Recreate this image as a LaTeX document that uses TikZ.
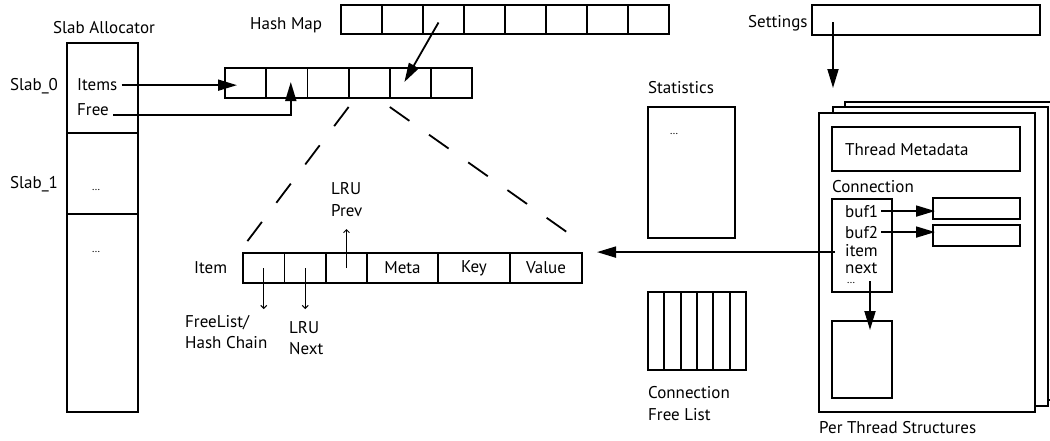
\documentclass[tikz,border=0pt]{standalone}
\usepackage{fontspec}
\setmainfont{PT Sans}
\usetikzlibrary{arrows.meta}
\begin{document}
\begin{tikzpicture}[x=1pt,y=-1pt,
  cell/.style={draw, line width=1.8pt, inner sep=0pt, outer sep=0pt, anchor=north west, fill=white},
  lbl/.style={font=\fontsize{17}{19}\selectfont, inner sep=0pt, anchor=base west},
  dots/.style={font=\fontsize{11}{12}\selectfont, inner sep=0pt},
  big/.style={-{Triangle[length=19pt,width=11pt]}, line width=1.8pt},
  small/.style={-{Straight Barb[length=3pt,width=6pt]}, line width=1pt},
  dashy/.style={line width=1.8pt, dash pattern=on 24pt off 24pt}]
\useasboundingbox (0,0) rectangle (1050,440);

% ---- Slab allocator
\node[lbl] (slabtitle) at (53,33.5) {Slab Allocator};
\node[cell, minimum width=71pt, minimum height=90pt] (slab0) at (67,43) {};
\node[cell, minimum width=71pt, minimum height=81pt] (slab1) at (67,133) {};
\node[cell, minimum width=71pt, minimum height=198pt] (slab2) at (67,214) {};
\node[lbl] (slab0lbl) at (10,90) {Slab\_0};
\node[lbl] (slab1lbl) at (10,188) {Slab\_1};
\node[lbl] (itemslbl) at (77,90) {Items};
\node[lbl] (freelbl) at (77,115) {Free};
\node[dots] (slab1dots) at (96,190) {\ldots};
\node[dots] (slab2dots) at (96,252) {\ldots};

% ---- Hash map
\node[lbl] (hmlbl) at (250,29) {Hash Map};
\foreach \i in {0,...,7}
  \node[cell, minimum width=41pt, minimum height=29pt] (hm\i) at ({341+41*\i},5) {};

% ---- items array
\foreach \i in {0,...,5}
  \node[cell, minimum width=41.2pt, minimum height=30pt] (it\i) at ({225+41.2*\i},68) {};

\coordinate (itemsout) at ([xshift=4pt,yshift=-1pt]itemslbl.east);
\draw[big] (itemsout) -- ([xshift=12pt]itemsout -| it0.west);
\coordinate (freeout) at ([xshift=4pt,yshift=-6pt]freelbl.east);
\draw[big] (freeout) -| ([xshift=4pt,yshift=1pt]it1.center);
\draw[big] ([xshift=-5pt,yshift=-3pt]hm2.center) -- ([xshift=-6pt,yshift=1pt]it4.center);

% ---- item struct
\node[lbl] (itemlbl) at (194,273) {Item};
\node[cell, minimum width=41.5pt, minimum height=30pt] (s1) at (243,253) {};
\node[cell, minimum width=41.5pt, minimum height=30pt] (s2) at (284.5,253) {};
\node[cell, minimum width=41pt, minimum height=30pt] (s3) at (326,253) {};
\node[cell, minimum width=71pt, minimum height=30pt, font=\fontsize{17}{19}\selectfont] (meta) at (367,253) {Meta};
\node[cell, minimum width=72pt, minimum height=30pt, font=\fontsize{17}{19}\selectfont] (key) at (438,253) {Key};
\node[cell, minimum width=72pt, minimum height=30pt, font=\fontsize{17}{19}\selectfont] (value) at (510,253) {Value};

\draw[dashy] ([yshift=-9pt]it3.south west) -- ([yshift=6pt]s1.north west);
\draw[dashy] ([yshift=-9pt]it4.south west) -- ([xshift=-11pt,yshift=18pt]value.north east);

\draw[small] (s1.center) -- ([yshift=-26pt]s1.south);
\draw[small] (s2.center) -- ([yshift=-26pt]s2.south);
\draw[small] (s3.center) -- ([yshift=24pt]s3.north);

\node[lbl] (lruprev1) at (331,194) {LRU};
\node[lbl] (lruprev2) at (331,216) {Prev};
\node[lbl] (fl1) at (185,327) {FreeList/};
\node[lbl] (fl2) at (185,348) {Hash Chain};
\node[lbl] (lrunext1) at (289,333) {LRU};
\node[lbl] (lrunext2) at (289,354) {Next};

% ---- statistics
\node[lbl] (statlbl) at (648,93) {Statistics};
\node[cell, minimum width=87pt, minimum height=131pt] (stat) at (648,107) {};
\node[dots] (statdots) at (674,134) {\ldots};

% ---- connection free list
\foreach \i in {0,...,5}
  \node[cell, minimum width=16.33pt, minimum height=78pt] (cf\i) at ({648+16.33*\i},292) {};
\node[lbl] (cfl1) at (648,398) {Connection};
\node[lbl] (cfl2) at (648,420) {Free List};

% ---- settings
\node[lbl] (setlbl) at (748,27) {Settings};
\node[cell, minimum width=228pt, minimum height=30pt] (set) at (812,5) {};

% ---- per thread structures
\node[cell, minimum width=207pt, minimum height=298pt] (back3) at (845,102) {};
\node[cell, minimum width=215pt, minimum height=299pt] (back2) at (833,107) {};
\node[cell, minimum width=216pt, minimum height=299pt] (front) at (819,113) {};
\coordinate (setarrow) at ([xshift=21pt,yshift=-2pt]set.west);
\draw[big] (setarrow) -- ([yshift=25pt]setarrow |- front.north);

\node[cell, minimum width=188pt, minimum height=44pt] (tmeta) at (832,127) {};
\node[lbl] (tmetalbl) at (845,155) {Thread Metadata};
\node[lbl] (connlbl) at (832,192) {Connection};
\node[cell, minimum width=60pt, minimum height=93pt] (conn) at (832,199) {};
\node[lbl] (b1lbl) at (845,217) {buf1};
\node[lbl] (b2lbl) at (845,238) {buf2};
\node[lbl] (itlbl) at (845,256) {item};
\node[lbl] (nxlbl) at (845,273) {next};
\node[dots] (conndots) at (851,283) {\ldots};
\node[cell, minimum width=87pt, minimum height=21pt] (bb1) at (933,198) {};
\node[cell, minimum width=87pt, minimum height=21pt] (bb2) at (933,225) {};
\node[cell, minimum width=60pt, minimum height=77pt] (nextbox) at (832,321) {};
\node[lbl] (ptslbl) at (819,433) {Per Thread Structures};

\draw[big] ([xshift=3pt]b1lbl.east) -- ([xshift=2pt]b1lbl.east -| bb1.west);
\draw[big] ([xshift=3pt]b2lbl.east) -- ([xshift=2pt]b2lbl.east -| bb2.west);
\draw[big] ([xshift=19pt,yshift=2pt]conndots.center) -- ([xshift=19pt,yshift=-9pt]conndots.center |- nextbox.north);
\draw[big] ([xshift=3pt,yshift=-2pt]conn.west |- itlbl.west) -- ([xshift=15pt,yshift=-2pt]itlbl.west -| value.east);
\end{tikzpicture}
\end{document}
